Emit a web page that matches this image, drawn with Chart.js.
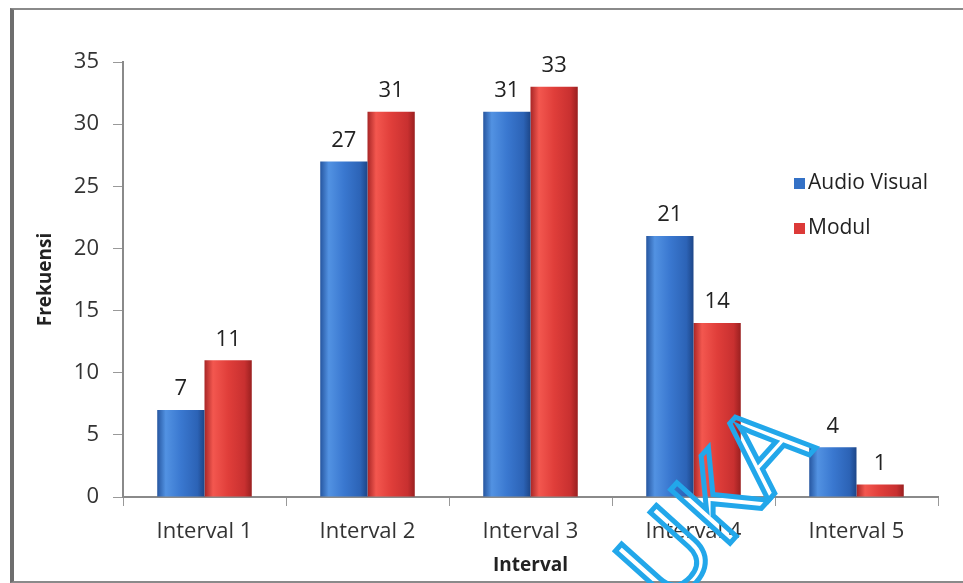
<!DOCTYPE html>
<html lang="id">
<head>
<meta charset="UTF-8">
<title>Frekuensi per Interval</title>
<script src="https://cdn.jsdelivr.net/npm/chart.js"></script>
<style>
  html, body { margin: 0; padding: 0; background: #fff; }
  #wrap { position: relative; width: 963px; height: 583px; overflow: hidden; }
  #frame { position: absolute; left: 10px; top: 8px; width: 960px; height: 571px;
           border-left: 4px solid #6e6e6e; border-top: 2px solid #8a8a8a; border-bottom: 2px solid #8a8a8a; }
  canvas { position: absolute; left: 0; top: 0; }
</style>
</head>
<body>
<div id="wrap">
  <div id="frame"></div>
  <canvas id="chart" width="963" height="583"></canvas>
</div>
<script>
  const categories = ['Interval 1', 'Interval 2', 'Interval 3', 'Interval 4', 'Interval 5']
  const audioVisual = [7, 27, 31, 21, 4]
  const modul = [11, 31, 33, 14, 1]
  const seriesNames = ['Audio Visual', 'Modul']
  const yTicks = [0, 5, 10, 15, 20, 25, 30, 35]

  const font = "'Open Sans', 'DejaVu Sans', sans-serif"
  const flat = ['#3471c6', '#dc3a38']
  const stops = [
    ['#2656a0', '#5292e2', '#3a78d0', '#2c63b6', '#1d4688'],
    ['#a82626', '#f3574f', '#e03e3a', '#c83030', '#9a2020']
  ]

  // horizontal gradient across each bar, built once the bars have positions
  function barFill(c) {
    const el = c.chart.getDatasetMeta(c.datasetIndex).data[c.dataIndex]
    if (!el || el.width == null || isNaN(el.x)) return flat[c.datasetIndex]
    const g = c.chart.ctx.createLinearGradient(el.x - el.width / 2, 0, el.x + el.width / 2, 0)
    const s = stops[c.datasetIndex]
    g.addColorStop(0, s[0]); g.addColorStop(0.18, s[1]); g.addColorStop(0.5, s[2])
    g.addColorStop(0.85, s[3]); g.addColorStop(1, s[4])
    return g
  }

  const valueLabels = {
    id: 'valueLabels',
    afterDatasetsDraw(chart) {
      const ctx = chart.ctx
      ctx.save()
      ctx.font = '22px ' + font
      ctx.fillStyle = '#222'
      ctx.textAlign = 'center'
      ctx.textBaseline = 'bottom'
      chart.data.datasets.forEach((ds, i) => {
        chart.getDatasetMeta(i).data.forEach((bar, j) => {
          ctx.fillText(ds.data[j], bar.x, bar.y - 10)
        })
      })
      ctx.restore()
    }
  }

  const sideLegend = {
    id: 'sideLegend',
    afterDraw(chart) {
      const ctx = chart.ctx
      ctx.save()
      ctx.font = '21px ' + font
      ctx.textBaseline = 'middle'
      chart.data.datasets.forEach((ds, i) => {
        const y = 183 + i * 45
        ctx.fillStyle = flat[i]
        ctx.fillRect(794, y - 5, 11, 11)
        ctx.fillStyle = '#222'
        ctx.fillText(ds.label, 808, y)
      })
      ctx.restore()
    }
  }

  const watermark = {
    id: 'watermark',
    afterDraw(chart) {
      const ctx = chart.ctx
      ctx.save()
      ctx.translate(668, 612)
      ctx.rotate(-48 * Math.PI / 180)
      ctx.font = '112px ' + font
      ctx.strokeStyle = '#22a7ea'
      ctx.lineWidth = 5
      ctx.strokeText('UKA', 0, 0)
      ctx.restore()
    }
  }

  const chart = new Chart(document.getElementById('chart'), {
    type: 'bar',
    data: {
      labels: categories,
      datasets: [
        { label: seriesNames[0], data: audioVisual, backgroundColor: barFill },
        { label: seriesNames[1], data: modul, backgroundColor: barFill }
      ]
    },
    options: {
      responsive: false,
      animation: false,
      events: [],
      layout: { padding: { top: 62, right: 25, left: 0, bottom: 0 } },
      datasets: { bar: { categoryPercentage: 0.58, barPercentage: 1 } },
      plugins: { legend: { display: false }, tooltip: { enabled: false } },
      scales: {
        x: {
          grid: { display: true, drawOnChartArea: false, offset: true, tickLength: 9, color: '#999' },
          border: { color: '#8a8a8a', width: 2 },
          ticks: { color: '#333', font: { family: font, size: 22 }, padding: 13 },
          title: { display: true, text: 'Interval', color: '#222', font: { family: font, size: 19, weight: 'bold' }, padding: { top: 0, bottom: 6 } },
          afterFit(s) { s.height = 86 }
        },
        y: {
          min: 0, max: 35,
          afterBuildTicks(s) { s.ticks = yTicks.map(v => ({ value: v })) },
          grid: { display: true, drawOnChartArea: false, tickLength: 10, color: '#999' },
          border: { color: '#8a8a8a', width: 2 },
          ticks: { color: '#333', font: { family: font, size: 22 }, padding: 14 },
          title: { display: true, text: 'Frekuensi', color: '#222', font: { family: font, size: 19, weight: 'bold' }, padding: { top: 34, bottom: 0 } },
          afterFit(s) { s.width = 123 }
        }
      }
    },
    plugins: [valueLabels, sideLegend, watermark]
  })
  chart.update('none')
</script>
</body>
</html>
